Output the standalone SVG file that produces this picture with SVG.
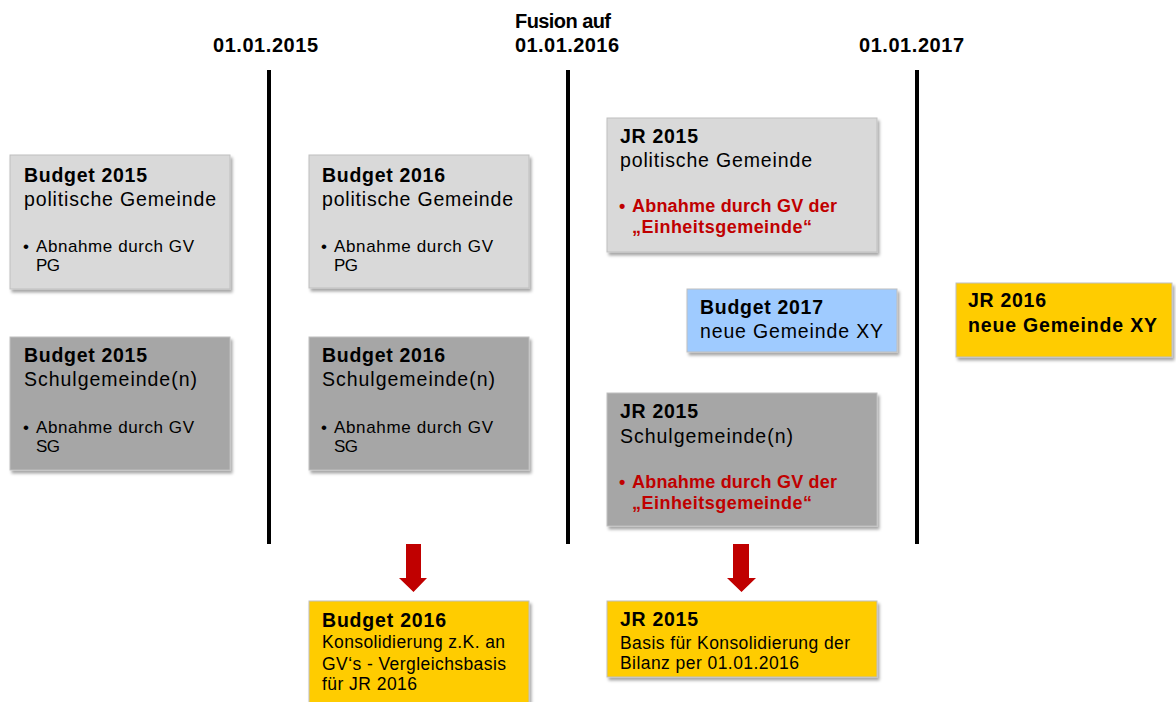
<svg xmlns="http://www.w3.org/2000/svg" width="1176" height="702" viewBox="0 0 1176 702">
  <defs>
    <filter id="sh" x="-10%" y="-10%" width="130%" height="140%">
      <feDropShadow dx="2" dy="3" stdDeviation="1.8" flood-color="#000" flood-opacity="0.35"/>
    </filter>
  </defs>
  <style>
    text { font-family: "Liberation Sans", Arial, sans-serif; fill: #000; }
    .hdr { font-size: 20px; font-weight: bold; }
    .t { font-size: 19.5px; font-weight: bold; }
    .s { font-size: 19.5px; }
    .b { font-size: 17px; }
    .r { font-size: 18px; font-weight: bold; fill: #C00000; }
    .y { font-size: 17.5px; }
    .box { stroke: #BFBFBF; stroke-width: 1; filter: url(#sh); }
    .lg { fill: #D9D9D9; }
    .dg { fill: #A6A6A6; }
    .bl { fill: #9FCBFF; }
    .ye { fill: #FFCC00; }
    .tl { stroke: #000; stroke-width: 4; }
    .arr { fill: #C00000; }
  </style>
  <rect width="1176" height="702" fill="#fff"/>

  <g id="headers">
    <text class="hdr" x="213" y="52" textLength="105" lengthAdjust="spacing">01.01.2015</text>
    <text class="hdr" x="515" y="28" textLength="96" lengthAdjust="spacing">Fusion auf</text>
    <text class="hdr" x="515" y="52" textLength="104" lengthAdjust="spacing">01.01.2016</text>
    <text class="hdr" x="859" y="52" textLength="105" lengthAdjust="spacing">01.01.2017</text>
  </g>

  <g id="timeline">
    <line class="tl" x1="269" y1="70" x2="269" y2="544"/>
    <line class="tl" x1="568" y1="70" x2="568" y2="544"/>
    <line class="tl" x1="917" y1="70" x2="917" y2="544"/>
  </g>

  <g id="budget2015-pg">
    <rect class="box lg" x="10" y="155" width="220" height="134"/>
    <text class="t" x="24" y="182" textLength="123" lengthAdjust="spacing">Budget 2015</text>
    <text class="s" x="24" y="206" textLength="192" lengthAdjust="spacing">politische Gemeinde</text>
    <text class="b" x="23" y="252">•</text>
    <text class="b" x="36" y="252" textLength="158" lengthAdjust="spacing">Abnahme durch GV</text>
    <text class="b" x="36" y="271" textLength="24" lengthAdjust="spacing">PG</text>
  </g>

  <g id="budget2015-sg">
    <rect class="box dg" x="10" y="337" width="220" height="133"/>
    <text class="t" x="24" y="362" textLength="123" lengthAdjust="spacing">Budget 2015</text>
    <text class="s" x="24" y="386" textLength="173" lengthAdjust="spacing">Schulgemeinde(n)</text>
    <text class="b" x="23" y="433">•</text>
    <text class="b" x="36" y="433" textLength="158" lengthAdjust="spacing">Abnahme durch GV</text>
    <text class="b" x="36" y="452" textLength="24" lengthAdjust="spacing">SG</text>
  </g>

  <g id="budget2016-pg">
    <rect class="box lg" x="309" y="155" width="220" height="133"/>
    <text class="t" x="322" y="182" textLength="123" lengthAdjust="spacing">Budget 2016</text>
    <text class="s" x="322" y="206" textLength="191" lengthAdjust="spacing">politische Gemeinde</text>
    <text class="b" x="321" y="252">•</text>
    <text class="b" x="334" y="252" textLength="159" lengthAdjust="spacing">Abnahme durch GV</text>
    <text class="b" x="334" y="271" textLength="24" lengthAdjust="spacing">PG</text>
  </g>

  <g id="budget2016-sg">
    <rect class="box dg" x="309" y="337" width="220" height="133"/>
    <text class="t" x="322" y="362" textLength="123" lengthAdjust="spacing">Budget 2016</text>
    <text class="s" x="322" y="386" textLength="173" lengthAdjust="spacing">Schulgemeinde(n)</text>
    <text class="b" x="321" y="433">•</text>
    <text class="b" x="334" y="433" textLength="159" lengthAdjust="spacing">Abnahme durch GV</text>
    <text class="b" x="334" y="452" textLength="24" lengthAdjust="spacing">SG</text>
  </g>

  <g id="jr2015-pg">
    <rect class="box lg" x="607" y="118" width="270" height="134"/>
    <text class="t" x="620" y="143" textLength="78" lengthAdjust="spacing">JR 2015</text>
    <text class="s" x="620" y="167" textLength="192" lengthAdjust="spacing">politische Gemeinde</text>
    <text class="r" x="619" y="212">•</text>
    <text class="r" x="632" y="212" textLength="205" lengthAdjust="spacing">Abnahme durch GV der</text>
    <text class="r" x="632" y="233" textLength="180" lengthAdjust="spacing">„Einheitsgemeinde“</text>
  </g>

  <g id="budget2017">
    <rect class="box bl" x="687" y="289" width="210" height="63"/>
    <text class="t" x="700" y="314" textLength="123" lengthAdjust="spacing">Budget 2017</text>
    <text class="s" x="700" y="338" textLength="183" lengthAdjust="spacing">neue Gemeinde XY</text>
  </g>

  <g id="jr2016">
    <rect class="box ye" x="956" y="283" width="216" height="74"/>
    <text class="t" x="968" y="307" textLength="78" lengthAdjust="spacing">JR 2016</text>
    <text class="t" x="968" y="332" textLength="189" lengthAdjust="spacing">neue Gemeinde XY</text>
  </g>

  <g id="jr2015-sg">
    <rect class="box dg" x="607" y="393" width="270" height="133"/>
    <text class="t" x="620" y="418" textLength="78" lengthAdjust="spacing">JR 2015</text>
    <text class="s" x="620" y="443" textLength="173" lengthAdjust="spacing">Schulgemeinde(n)</text>
    <text class="r" x="619" y="488">•</text>
    <text class="r" x="632" y="488" textLength="205" lengthAdjust="spacing">Abnahme durch GV der</text>
    <text class="r" x="632" y="509" textLength="180" lengthAdjust="spacing">„Einheitsgemeinde“</text>
  </g>

  <g id="budget2016-konsolidierung">
    <rect class="box ye" x="309" y="601" width="220" height="112"/>
    <text class="t" x="322" y="627" textLength="124" lengthAdjust="spacing">Budget 2016</text>
    <text class="y" x="322" y="648" textLength="183" lengthAdjust="spacing">Konsolidierung z.K. an</text>
    <text class="y" x="322" y="670" textLength="184" lengthAdjust="spacing">GV‘s - Vergleichsbasis</text>
    <text class="y" x="322" y="690" textLength="95" lengthAdjust="spacing">für JR 2016</text>
  </g>

  <g id="jr2015-basis">
    <rect class="box ye" x="607" y="601" width="270" height="76"/>
    <text class="t" x="620" y="626" textLength="78" lengthAdjust="spacing">JR 2015</text>
    <text class="y" x="620" y="649" textLength="230" lengthAdjust="spacing">Basis für Konsolidierung der</text>
    <text class="y" x="620" y="669" textLength="179" lengthAdjust="spacing">Bilanz per 01.01.2016</text>
  </g>

  <g id="connectors">
    <path class="arr" d="M406,544 H421 V578 H427 L413.5,592 L399,578 H406 Z"/>
    <path class="arr" d="M733,544 H749 V578 H756 L741.5,592 L727,578 H733 Z"/>
  </g>
</svg>
